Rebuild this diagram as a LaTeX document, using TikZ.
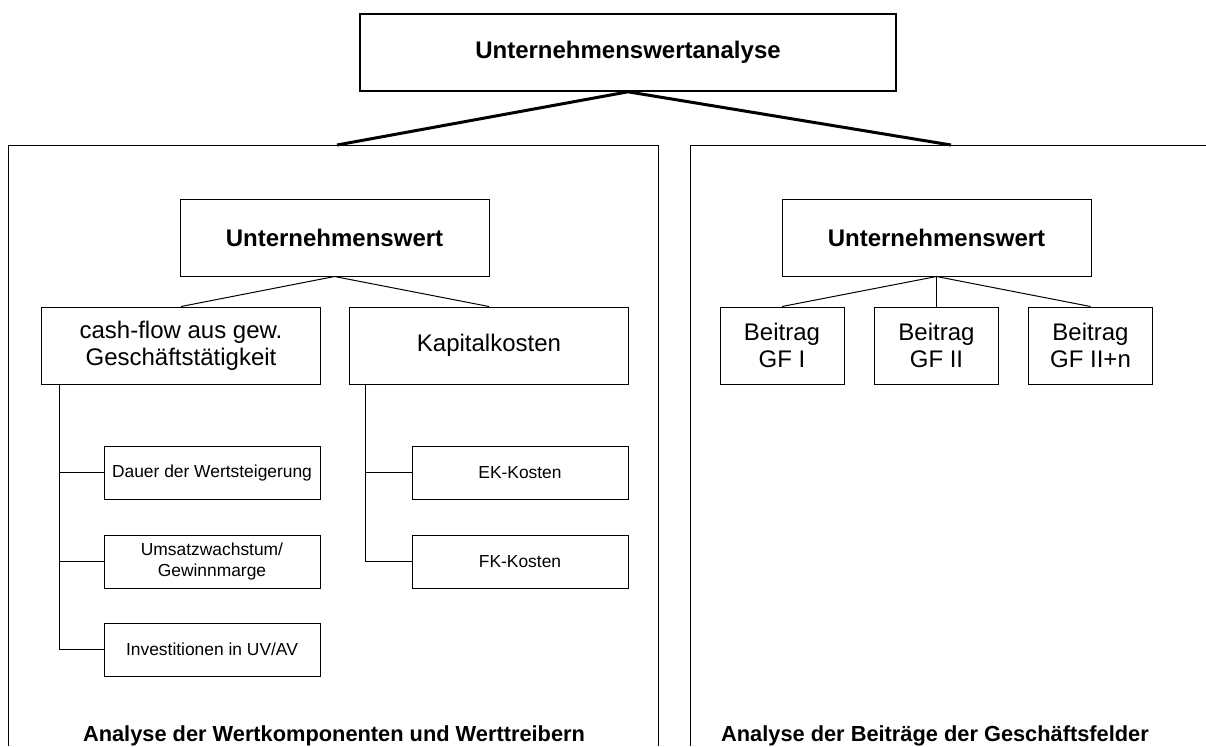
\documentclass[tikz,border=0pt]{standalone}
\usepackage{fontspec}
\setmainfont{Liberation Sans}
\usetikzlibrary{positioning}
\tikzset{
    box/.style = {rectangle, draw=black, line width=0.5pt, align=center, inner sep=0pt,
                  font=\fontsize{12}{13.5}\selectfont},
    boxtop/.style = {box, line width=0.8pt, minimum width=268pt, minimum height=38.5pt, font=\fontsize{12}{13.5}\selectfont\bfseries},
    boxuw/.style = {box, minimum width=154.5pt, minimum height=38.5pt, font=\fontsize{12}{13.5}\selectfont\bfseries},
    boxmid/.style = {box, minimum width=139.5pt, minimum height=38.5pt},
    boxgf/.style = {box, minimum width=62pt, minimum height=38.5pt},
    boxsmall/.style = {box, minimum width=108pt, minimum height=26.5pt, font=\fontsize{8.7}{10.5}\selectfont},
    panel/.style = {draw=black, line width=0.5pt},
    edgeb/.style = {line width=1.5pt, black},
    edgen/.style = {line width=0.5pt, black},
    caption/.style = {font=\fontsize{10.9}{12}\selectfont\bfseries, inner sep=0pt}
}
\begin{document}
\begin{tikzpicture}[x=0.5pt,y=-0.5pt]
\useasboundingbox (0,0) rectangle (1206,746);
%
\node[boxtop] at (628,52.5) (top) {Unternehmenswertanalyse};
\coordinate (lp) at (337,145);
\coordinate (rp) at (951,145);
\draw[panel] (8,746) -- (8,145) -- (658,145) -- (658,746);
\draw[panel] (690,746) -- (690,145) -- (1206,145);
%
% left panel
\node[boxuw] at (334.5,237.5) (uwl) {Unternehmenswert};
\node[boxmid] at (181,345.5) (cf) {cash-flow aus gew.\\Geschäftstätigkeit};
\node[boxmid] at (489,345.5) (kk) {Kapitalkosten};
\node[boxsmall] at (212,472.5) (dauer) {Dauer der Wertsteigerung};
\node[boxsmall] at (212,561.5) (umsatz) {Umsatzwachstum/\\Gewinnmarge};
\node[boxsmall] at (212,649.5) (inv) {Investitionen in UV/AV};
\node[boxsmall] at (520,472.5) (ek) {EK-Kosten};
\node[boxsmall] at (520,561.5) (fk) {FK-Kosten};
\node[caption] at (334,736) (capl) {Analyse der Wertkomponenten und Werttreibern};
%
% right panel
\node[boxuw] at (936.5,237.5) (uwr) {Unternehmenswert};
\node[boxgf] at (782,345.5) (gf1) {Beitrag\\GF I};
\node[boxgf] at (936.5,345.5) (gf2) {Beitrag\\GF II};
\node[boxgf] at (1090.5,345.5) (gf3) {Beitrag\\GF II+n};
\node[caption] at (935,736) (capr) {Analyse der Beiträge der Geschäftsfelder};
%
\draw[edgeb] (lp) -- (top.south) -- (rp);
\draw[edgen] (cf.north) -- (uwl.south) -- (kk.north);
\draw[edgen] (gf1.north) -- (uwr.south) -- (gf3.north);
\draw[edgen] (uwr.south) -- (gf2.north);
\draw[edgen] ([xshift=9.25pt]cf.south west) |- (dauer.west);
\draw[edgen] ([xshift=9.25pt]cf.south west) |- (umsatz.west);
\draw[edgen] ([xshift=9.25pt]cf.south west) |- (inv.west);
\draw[edgen] ([xshift=8pt]kk.south west) |- (ek.west);
\draw[edgen] ([xshift=8pt]kk.south west) |- (fk.west);
\end{tikzpicture}
\end{document}
